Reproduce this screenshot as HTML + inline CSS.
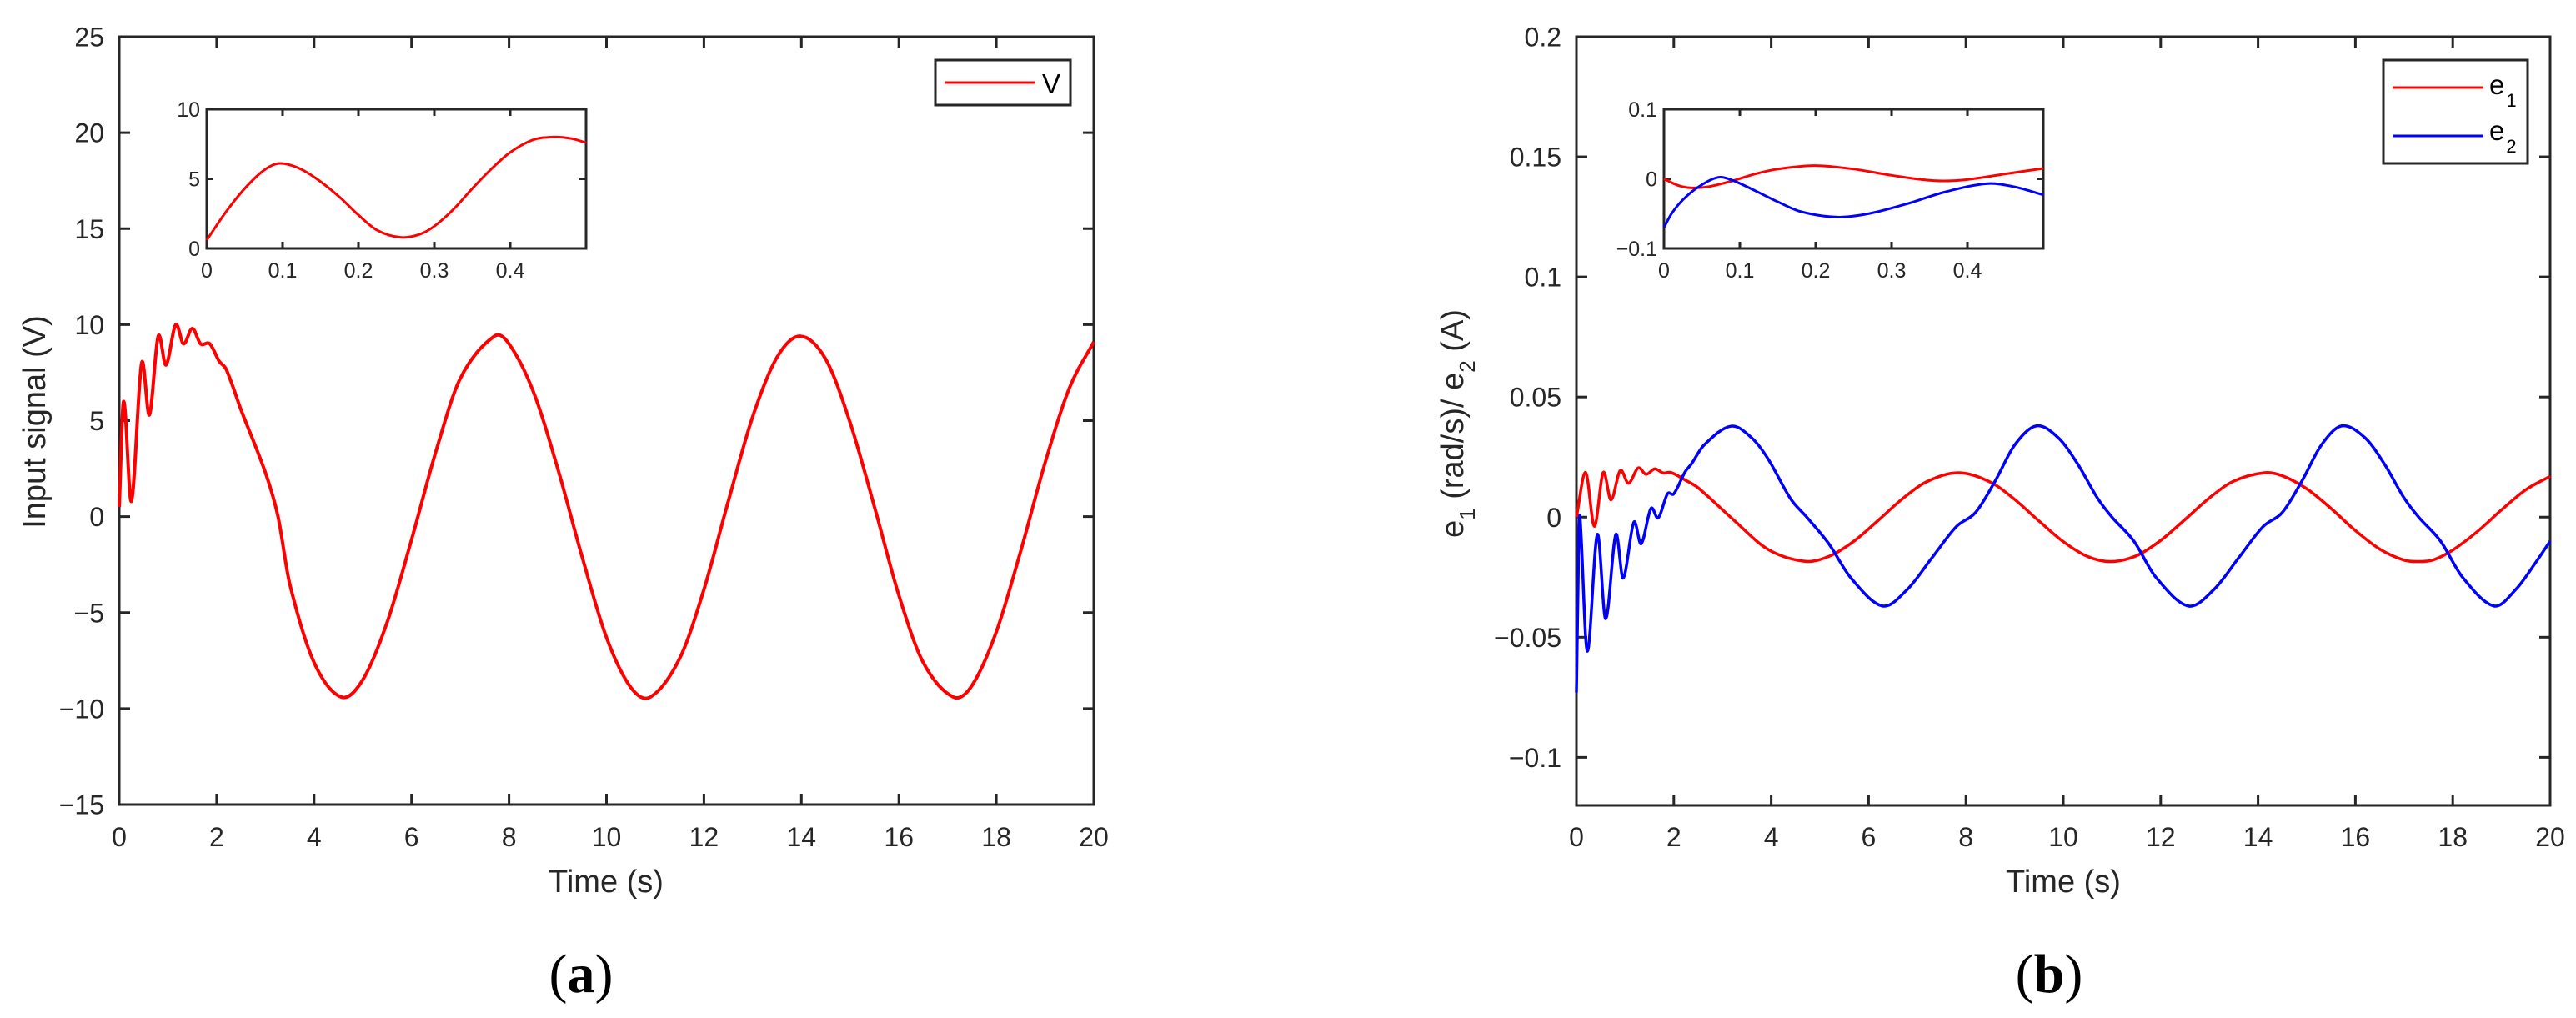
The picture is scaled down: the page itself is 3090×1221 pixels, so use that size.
<!DOCTYPE html>
<html><head><meta charset="utf-8">
<style>
html,body{margin:0;padding:0;background:#fff;}
svg{display:block;font-family:"Liberation Sans",Arial,sans-serif;}
</style></head>
<body>
<svg id="fig" width="3090" height="1221" viewBox="0 0 3090 1221" xmlns="http://www.w3.org/2000/svg"></svg>
<script>
// ---------- data: panel (a) ----------
const vTime = [0,0.09,0.25,0.46,0.62,0.80,0.96,1.16,1.32,1.5,1.67,1.86,2.05,2.2,2.51,3.0,3.26,3.5,4.0,4.56,5.0,5.5,6.0,6.5,7.0,7.7,8.0,8.5,9.0,9.5,10.0,10.5,10.9,11.5,12.0,12.5,13.0,13.5,13.98,14.5,15.0,15.5,16.0,16.5,17.12,17.5,18.0,18.5,19.0,19.5,20.0];
const vValues = [0.5,6.0,0.8,8.0,5.3,9.4,7.9,10.0,9.0,9.8,9.0,9.0,8.1,7.65,5.5,2.3,0,-3.5,-7.6,-9.4,-8.5,-5.5,-1.2,3.4,7.2,9.4,9.0,6.5,2.5,-2.1,-6.3,-8.9,-9.4,-7.4,-3.8,0.8,5.2,8.3,9.4,8.2,4.9,0.5,-4.1,-7.6,-9.4,-8.8,-6.0,-1.8,2.8,6.7,9.1];
const vInsetTime = [0,0.025,0.05,0.075,0.095,0.12,0.145,0.175,0.2,0.225,0.255,0.28,0.3,0.325,0.35,0.375,0.4,0.43,0.457,0.48,0.5];
const vInsetValues = [0.6,2.6,4.3,5.6,6.1,5.8,5.0,3.7,2.4,1.3,0.8,1.0,1.6,2.8,4.3,5.7,6.9,7.8,8.0,7.9,7.6];
const aXTicks = [0,2,4,6,8,10,12,14,16,18,20];
const aYTicks = [-15,-10,-5,0,5,10,15,20,25];
const aYTickLabels = ["\u221215","\u221210","\u22125","0","5","10","15","20","25"];
const aInsetXTicks = [0,0.1,0.2,0.3,0.4];
const aInsetYTicks = [0,5,10];

// ---------- data: panel (b) ----------
const e1Time = [0,0.19,0.37,0.55,0.71,0.9,1.07,1.27,1.43,1.61,1.78,1.94,2.23,2.5,3.22,3.94,4.7,5.2,5.7,6.2,6.7,7.2,7.85,8.5,9.0,9.5,10.0,10.5,10.98,11.5,12.0,12.5,13.0,13.5,14.13,14.5,15.0,15.5,16.0,16.5,17.0,17.3,17.6,18.0,18.5,19.0,19.5,20.0];
const e1Values = [0,0.0186,-0.0038,0.0186,0.0072,0.0194,0.0141,0.0205,0.0178,0.0201,0.0184,0.0186,0.0155,0.0122,-0.001,-0.0135,-0.0184,-0.0162,-0.0100,-0.0013,0.0077,0.0148,0.0185,0.0146,0.0074,-0.0016,-0.0102,-0.0164,-0.0185,-0.0161,-0.0097,-0.0010,0.0080,0.0150,0.0185,0.0172,0.0118,0.0036,-0.0056,-0.0133,-0.0179,-0.0185,-0.0178,-0.0137,-0.0061,0.0030,0.0114,0.0170];
const e2Time = [0,0.04,0.07,0.22,0.43,0.6,0.81,0.96,1.18,1.33,1.53,1.68,1.87,2.0,2.23,2.36,2.62,3.18,3.61,3.94,4.4,4.73,5.18,5.64,6.29,6.8,7.3,7.8,8.2,8.6,9.0,9.45,9.9,10.3,10.7,11.0,11.45,11.9,12.57,13.1,13.6,14.1,14.5,14.9,15.3,15.72,16.2,16.6,17.0,17.3,17.75,18.2,18.85,19.3,19.7,20.0];
const e2Values = [-0.073,-0.02,0.0007,-0.0558,-0.0072,-0.0423,-0.0072,-0.0254,-0.0021,-0.0111,0.0036,-0.0003,0.0097,0.0097,0.0188,0.0221,0.030,0.0379,0.0328,0.0241,0.0076,0,-0.011,-0.0254,-0.037,-0.030,-0.017,-0.004,0.002,0.015,0.030,0.038,0.033,0.022,0.008,0.0,-0.010,-0.025,-0.037,-0.030,-0.017,-0.004,0.002,0.015,0.030,0.038,0.033,0.022,0.008,0.0,-0.010,-0.025,-0.037,-0.030,-0.019,-0.010];
const e1InsetTime = [0,0.02,0.037,0.06,0.09,0.12,0.15,0.198,0.25,0.3,0.34,0.368,0.4,0.45,0.5];
const e1InsetValues = [0,-0.010,-0.013,-0.011,-0.003,0.007,0.014,0.019,0.014,0.005,-0.001,-0.003,-0.001,0.007,0.015];
const e2InsetTime = [0,0.01,0.025,0.045,0.071,0.09,0.12,0.15,0.18,0.228,0.27,0.32,0.37,0.425,0.46,0.5];
const e2InsetValues = [-0.07,-0.05,-0.03,-0.012,0.002,-0.002,-0.017,-0.033,-0.047,-0.055,-0.050,-0.036,-0.019,-0.007,-0.011,-0.023];
const bXTicks = [0,2,4,6,8,10,12,14,16,18,20];
const bYTicks = [-0.1,-0.05,0,0.05,0.1,0.15,0.2];
const bYTickLabels = ["\u22120.1","\u22120.05","0","0.05","0.1","0.15","0.2"];
const bInsetXTicks = [0,0.1,0.2,0.3,0.4];
const bInsetYTicks = [-0.1,0,0.1];
const bInsetYTickLabels = ["\u22120.1","0","0.1"];

const NS = "http://www.w3.org/2000/svg";
const svg = document.getElementById('fig');
function mk(tag, attrs, parent){
  const e = document.createElementNS(NS, tag);
  for (const k in attrs) e.setAttribute(k, attrs[k]);
  (parent||svg).appendChild(e);
  return e;
}
function scale(d0,d1,r0,r1){ return v => r0 + (v-d0)/(d1-d0)*(r1-r0); }
// smooth Hermite interpolation in pixel space (x monotonic)
function pathFrom(xs, ys, sx, sy){
  const p = xs.map((x,i)=>[sx(x), sy(ys[i])]);
  const n = p.length;
  const m = p.map((q,i)=>{
    const a = p[Math.max(0,i-1)], b = p[Math.min(n-1,i+1)];
    return (b[1]-a[1])/((b[0]-a[0])||1);
  });
  let d = "M"+p[0][0].toFixed(2)+","+p[0][1].toFixed(2);
  for (let i=0;i<n-1;i++){
    const dx = (p[i+1][0]-p[i][0])/3;
    d += " C"+(p[i][0]+dx).toFixed(2)+","+(p[i][1]+m[i]*dx).toFixed(2)+" "+(p[i+1][0]-dx).toFixed(2)+","+(p[i+1][1]-m[i+1]*dx).toFixed(2)+" "+p[i+1][0].toFixed(2)+","+p[i+1][1].toFixed(2);
  }
  return d;
}
const AX = "#262626";

function drawAxes(g, L, T, R, B, sx, sy, xt, xl, yt, yl, fs, tl, sw, xlabY, ylabX){
  const box = mk('rect',{x:L,y:T,width:R-L,height:B-T,fill:'#fff',stroke:AX,'stroke-width':sw},g);
  
  
  xt.forEach((v,i)=>{
    const x = sx(v);
    mk('line',{x1:x,y1:B,x2:x,y2:B-tl,stroke:AX,'stroke-width':sw},g);
    mk('line',{x1:x,y1:T,x2:x,y2:T+tl,stroke:AX,'stroke-width':sw},g);
    if (xl[i]!==null){
      const t = mk('text',{x:x,y:xlabY,'font-size':fs,'text-anchor':'middle',fill:AX},g);
      t.textContent = xl[i];
      
      
    }
  });
  yt.forEach((v,i)=>{
    const y = sy(v);
    mk('line',{x1:L,y1:y,x2:L+tl,y2:y,stroke:AX,'stroke-width':sw},g);
    mk('line',{x1:R,y1:y,x2:R-tl,y2:y,stroke:AX,'stroke-width':sw},g);
    const t = mk('text',{x:ylabX,y:y+fs*0.36,'font-size':fs,'text-anchor':'end',fill:AX},g);
    t.textContent = yl[i];
    
    
  });
}
function line(g, xs, ys, sx, sy, color, w, name){
  const p = mk('path',{d:pathFrom(xs,ys,sx,sy),fill:'none',stroke:color,'stroke-width':w,'stroke-linejoin':'round'},g);
  
  
}

// ===== Panel (a) =====
const ga = mk('g',{});


const aL=143,aR=1312,aT=44,aB=965;
const asx = scale(0,20,aL,aR), asy = scale(-15,25,aB,aT);
drawAxes(ga,aL,aT,aR,aB,asx,asy,aXTicks,aXTicks.map(String),aYTicks,aYTickLabels,32,13,3,1015,125);
line(ga,vTime,vValues,asx,asy,'#ff0000',4,'v-line');
const gai = mk('g',{},ga);


const iL=248,iR=703,iT=131,iB=298;
const aisx = scale(0,0.5,iL,iR), aisy = scale(0,10,iB,iT);
drawAxes(gai,iL,iT,iR,iB,aisx,aisy,aInsetXTicks,aInsetXTicks.map(String),aInsetYTicks,aInsetYTicks.map(String),25,8,3,333,240);
line(gai,vInsetTime,vInsetValues,aisx,aisy,'#ff0000',3,'v-inset-line');
const lga = mk('g',{},ga);


mk('rect',{x:1122,y:72,width:162,height:54,fill:'#fff',stroke:AX,'stroke-width':3},lga);
mk('line',{x1:1133,y1:99,x2:1242,y2:99,stroke:'#ff0000','stroke-width':3},lga);
let t = mk('text',{x:1250,y:112,'font-size':33,fill:'#000'},lga);
t.textContent='V';


t = mk('text',{x:727,y:1070,'font-size':38,'text-anchor':'middle',fill:AX},ga);
t.textContent='Time (s)';


t = mk('text',{x:54,y:506,'font-size':38,'text-anchor':'middle',fill:AX,transform:'rotate(-90 54 506)'},ga);
t.textContent='Input signal (V)';


t = mk('text',{x:697,y:1190,'font-size':66,'text-anchor':'middle',fill:'#000','font-family':'"Liberation Serif",serif'},ga);
t.innerHTML='(<tspan font-weight="bold">a</tspan>)';



// ===== Panel (b) =====
const gb = mk('g',{});


const bL=1891,bR=3059,bT=44,bB=966;
const bsx = scale(0,20,bL,bR), bsy = scale(-0.12,0.2,bB,bT);
drawAxes(gb,bL,bT,bR,bB,bsx,bsy,bXTicks,bXTicks.map(String),bYTicks,bYTickLabels,32,13,3,1015,1873);
line(gb,e1Time,e1Values,bsx,bsy,'#ff0000',3.5,'e1-line');
line(gb,e2Time,e2Values,bsx,bsy,'#0000ff',3.5,'e2-line');
const gbi = mk('g',{},gb);


const jL=1996,jR=2451,jT=131,jB=298;
const bisx = scale(0,0.5,jL,jR), bisy = scale(-0.1,0.1,jB,jT);
drawAxes(gbi,jL,jT,jR,jB,bisx,bisy,bInsetXTicks,bInsetXTicks.map(String),bInsetYTicks,bInsetYTickLabels,25,8,3,333,1988);
line(gbi,e1InsetTime,e1InsetValues,bisx,bisy,'#ff0000',3,'e1-inset-line');
line(gbi,e2InsetTime,e2InsetValues,bisx,bisy,'#0000ff',3,'e2-inset-line');
const lgb = mk('g',{},gb);


mk('rect',{x:2859,y:72,width:173,height:124,fill:'#fff',stroke:AX,'stroke-width':3},lgb);
mk('line',{x1:2870,y1:105,x2:2979,y2:105,stroke:'#ff0000','stroke-width':3},lgb);
mk('line',{x1:2870,y1:163,x2:2979,y2:163,stroke:'#0000ff','stroke-width':3},lgb);
t = mk('text',{x:2986,y:113,'font-size':33,fill:'#000'},lgb);
t.innerHTML='e<tspan font-size="22" dy="15" dx="2">1</tspan>';


t = mk('text',{x:2986,y:168,'font-size':33,fill:'#000'},lgb);
t.innerHTML='e<tspan font-size="22" dy="15" dx="2">2</tspan>';


t = mk('text',{x:2475,y:1070,'font-size':38,'text-anchor':'middle',fill:AX},gb);
t.textContent='Time (s)';


t = mk('text',{x:1755,y:508,'font-size':38,'text-anchor':'middle',fill:AX,transform:'rotate(-90 1755 508)'},gb);
t.innerHTML='e<tspan font-size="26" dy="14">1</tspan><tspan dy="-14"> (rad/s)/ e</tspan><tspan font-size="26" dy="14">2</tspan><tspan dy="-14"> (A)</tspan>';


t = mk('text',{x:2458,y:1190,'font-size':66,'text-anchor':'middle',fill:'#000','font-family':'"Liberation Serif",serif'},gb);
t.innerHTML='(<tspan font-weight="bold">b</tspan>)';


</script>
</body></html>
